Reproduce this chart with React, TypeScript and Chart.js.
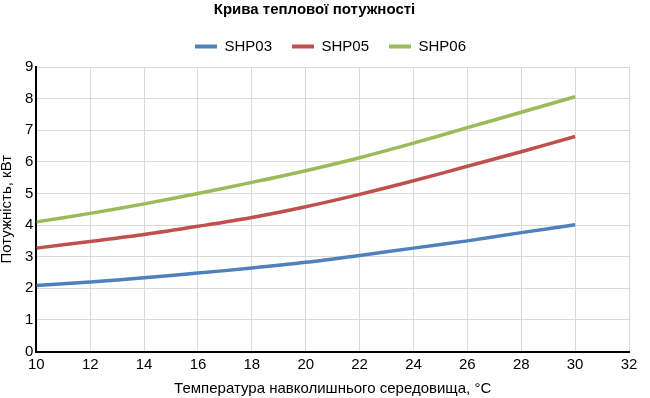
import React, { useEffect, useRef } from "react";
import { Chart, registerables } from "chart.js";

Chart.register(...registerables);

const temperatures = [10, 12, 14, 16, 18, 20, 22, 24, 26, 28, 30];
const shp03 = [2.09, 2.2, 2.33, 2.48, 2.64, 2.82, 3.04, 3.27, 3.5, 3.76, 4.01];
const shp05 = [3.27, 3.48, 3.7, 3.96, 4.24, 4.58, 4.97, 5.4, 5.86, 6.32, 6.8];
const shp06 = [4.1, 4.37, 4.67, 5.0, 5.35, 5.72, 6.13, 6.59, 7.08, 7.57, 8.06];
const seriesNames = ["SHP03", "SHP05", "SHP06"];
const seriesValues = [shp03, shp05, shp06];
const seriesColors = ["#4F81BD", "#C0504D", "#9BBB59"];
const xMin = 10;
const xMax = 32;
const xStep = 2;
const yMin = 0;
const yMax = 9;
const yStep = 1;
const chartTitle = "Крива теплової потужності";
const xTitle = "Температура навколишнього середовища, °C";
const yTitle = "Потужність, кВт";

const FONT = "'Liberation Sans', Arial, sans-serif";

const legendTweak = {
  id: "legendTweak",
  beforeLayout(chart: any) {
    const lg = chart.legend;
    if (lg && !lg.__patched) {
      const orig = lg.fit.bind(lg);
      lg.fit = function () {
        orig();
        this.height += 3;
      };
      lg.__patched = true;
    }
  },
  afterLayout(chart: any) {
    const lg = chart.legend;
    if (lg) {
      lg.left += 16;
      lg.right += 16;
    }
  },
};

export default function App() {
  const ref = useRef<HTMLCanvasElement | null>(null);

  useEffect(() => {
    if (!ref.current) return;
    const chart = new Chart(ref.current, {
      type: "line",
      data: {
        datasets: seriesNames.map((name, i) => ({
          label: name,
          data: temperatures.map((t, j) => ({ x: t, y: seriesValues[i][j] })),
          borderColor: seriesColors[i],
          backgroundColor: seriesColors[i],
          borderWidth: 3.5,
          pointRadius: 0,
          tension: 0.3,
          fill: false,
        })),
      },
      options: {
        responsive: false,
        animation: false,
        devicePixelRatio: 1,
        layout: { padding: { left: 0, right: 21, top: 0, bottom: 0 } },
        plugins: {
          title: {
            display: true,
            text: chartTitle,
            color: "#000",
            font: { family: FONT, size: 15, weight: "bold" },
            padding: { top: 1, bottom: 0 },
          },
          legend: {
            display: true,
            position: "top",
            labels: {
              color: "#000",
              font: { family: FONT, size: 15 },
              boxWidth: 22,
              boxHeight: 4,
              padding: 20,
              generateLabels: (c: any) => {
                const items = Chart.defaults.plugins.legend.labels.generateLabels(c);
                return items.map((it: any) => ({ ...it, lineWidth: 0 }));
              },
            },
          },
          tooltip: { enabled: false },
        },
        scales: {
          x: {
            type: "linear",
            min: xMin,
            max: xMax,
            ticks: {
              stepSize: xStep,
              color: "#000",
              font: { family: FONT, size: 15 },
              padding: 4,
              maxRotation: 0,
            },
            grid: { color: "#D9D9D9", lineWidth: 1, drawTicks: false },
            border: { color: "#000", width: 2 },
            title: {
              display: true,
              text: xTitle,
              color: "#000",
              font: { family: FONT, size: 15 },
              padding: { top: 2.5, bottom: 0 },
            },
          },
          y: {
            type: "linear",
            min: yMin,
            max: yMax,
            ticks: {
              stepSize: yStep,
              color: "#000",
              font: { family: FONT, size: 15 },
              padding: 3,
            },
            grid: { color: "#D9D9D9", lineWidth: 1, drawTicks: false },
            border: { color: "#000", width: 2 },
            title: {
              display: true,
              text: yTitle,
              color: "#000",
              font: { family: FONT, size: 15 },
              padding: { top: -2, bottom: 6 },
            },
          },
        },
      },
      plugins: [legendTweak],
    });
    return () => chart.destroy();
  }, []);

  return (
    <div style={{ position: "absolute", left: 0, top: 0, width: 650, height: 398, background: "#fff" }}>
      <canvas ref={ref} width={650} height={398} />
    </div>
  );
}
